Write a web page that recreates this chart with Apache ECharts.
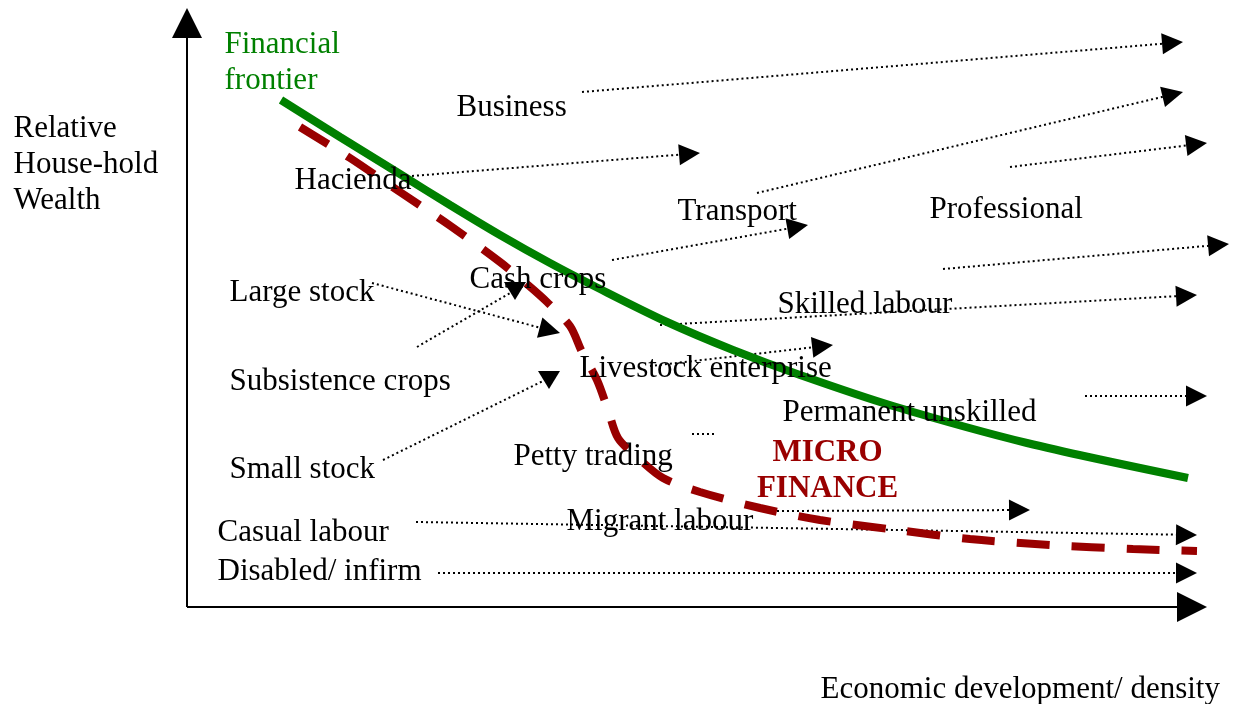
<!DOCTYPE html>
<html>
<head>
<meta charset="utf-8">
<title>Financial frontier</title>
<script src="https://cdn.jsdelivr.net/npm/echarts@6/dist/echarts.min.js"></script>
<style>
  html, body { margin: 0; padding: 0; background: #fff; }
  #chart { width: 1243px; height: 704px; }
</style>
</head>
<body>
<div id="chart"></div>
<script>
// 坐标系直接按画面像素取值 (x: 0-1243, y: 0-704 自上而下)
var greenFrontier = [[281, 100], [340, 137], [400, 174], [450, 205], [500, 235], [550, 263], [600, 289],
  [667, 322], [733, 350], [800, 375], [893, 406], [1027, 443], [1188, 478]];
var microFinance = [[300, 127], [350, 158], [400, 192], [452, 227], [500, 262], [528, 285], [547, 302],
  [570, 326], [582, 352], [597, 380], [608, 410], [618, 438], [637, 457], [663, 478], [700, 492],
  [760, 508], [820, 520], [897, 530], [970, 539], [1050, 545], [1133, 549], [1197, 551]];

// 主坐标轴 (起点, 箭头尖)
var axisArrows = [[[187, 607], [187, 8]], [[187, 607], [1207, 607]]];

// 虚线箭头 (起点, 箭头尖)
var dottedArrows = [
  [[582, 92], [1183, 42]],
  [[757, 193], [1183, 92]],
  [[1010, 167], [1207, 143]],
  [[412, 176], [700, 153]],
  [[612, 260], [808, 225]],
  [[943, 269], [1229, 244]],
  [[660, 325], [1197, 295]],
  [[372, 283], [560, 333]],
  [[650, 366], [833, 345]],
  [[1085, 396], [1207, 396]],
  [[777, 511], [1030, 510]],
  [[416, 522], [1197, 535]],
  [[438, 573], [1197, 573]]
];
// 没有箭头的虚线
var dottedPlain = [
  [[417, 347], [510, 293]],
  [[383, 460], [545, 380]],
  [[692, 434], [717, 434]]
];
// 朝下的三角
var downHeads = [[515, 291], [549, 380]];

// 文字标签 [x, y, 文本]
var blackLabels = [
  [14, 165, 'Relative\nHouse-hold\nWealth'],
  [457, 108, 'Business'],
  [295, 181, 'Hacienda'],
  [678, 212, 'Transport'],
  [930, 210, 'Professional'],
  [470, 280, 'Cash crops'],
  [230, 293, 'Large stock'],
  [778, 305, 'Skilled labour'],
  [230, 382, 'Subsistence crops'],
  [580, 369, 'Livestock enterprise'],
  [783, 413, 'Permanent unskilled'],
  [230, 470, 'Small stock'],
  [514, 457, 'Petty trading'],
  [567, 522, 'Migrant labour'],
  [218, 533, 'Casual labour'],
  [218, 572, 'Disabled/ infirm'],
  [821, 690, 'Economic development/ density']
];
var greenLabels = [[225, 63, 'Financial\nfrontier']];
var redLabels = [[828, 471, 'MICRO\nFINANCE']];

var FONT = 'Liberation Serif, Times New Roman, serif';

function textSeries(data, color, bold, align) {
  return {
    type: 'scatter',
    data: data,
    symbolSize: 1,
    itemStyle: { color: 'transparent', opacity: 1 },
    silent: true,
    z: 10,
    label: {
      show: true,
      position: [0, 0],
      align: align,
      verticalAlign: 'middle',
      color: color,
      opacity: 1,
      fontFamily: FONT,
      fontSize: 31,
      fontWeight: bold ? 'bold' : 'normal',
      lineHeight: 36,
      formatter: function (p) { return p.value[2]; }
    }
  };
}

// 三角形符号以端点为中心, 把终点往回收半个符号, 让尖端落在读到的位置
function toLines(arr, headSize) {
  var out = [];
  for (var i = 0; i < arr.length; i++) {
    var p0 = arr[i][0], p1 = arr[i][1];
    var dx = p1[0] - p0[0], dy = p1[1] - p0[1];
    var len = Math.sqrt(dx * dx + dy * dy);
    var k = headSize ? (headSize / 2) / len : 0;
    out.push({ coords: [p0, [p1[0] - dx * k, p1[1] - dy * k]] });
  }
  return out;
}

var chart = echarts.init(document.getElementById('chart'));
chart.setOption({
  animation: false,
  backgroundColor: '#fff',
  grid: { left: 0, right: 0, top: 0, bottom: 0 },
  xAxis: { type: 'value', min: 0, max: 1243, show: false },
  yAxis: { type: 'value', min: 0, max: 704, inverse: true, show: false },
  series: [
    {
      name: 'axes',
      type: 'lines',
      coordinateSystem: 'cartesian2d',
      data: toLines(axisArrows, 30),
      symbol: ['none', 'triangle'],
      symbolSize: 30,
      lineStyle: { color: '#000', width: 2, type: 'solid', opacity: 1 },
      silent: true
    },
    {
      name: 'arrows',
      type: 'lines',
      coordinateSystem: 'cartesian2d',
      data: toLines(dottedArrows, 21),
      symbol: ['none', 'triangle'],
      symbolSize: 21,
      lineStyle: { color: '#000', width: 2, type: [2, 3], opacity: 1 },
      silent: true
    },
    {
      name: 'plain',
      type: 'lines',
      coordinateSystem: 'cartesian2d',
      data: toLines(dottedPlain, 0),
      symbol: 'none',
      lineStyle: { color: '#000', width: 2, type: [2, 3], opacity: 1 },
      silent: true
    },
    {
      name: 'heads',
      type: 'scatter',
      data: downHeads,
      symbol: 'triangle',
      symbolRotate: 180,
      symbolSize: [22, 18],
      itemStyle: { color: '#000', opacity: 1 },
      silent: true
    },
    {
      name: 'Financial frontier',
      type: 'line',
      data: greenFrontier,
      smooth: 0.3,
      symbol: 'none',
      clip: false,
      lineStyle: { color: '#008000', width: 8 },
      z: 3
    },
    {
      name: 'Micro finance',
      type: 'line',
      data: microFinance,
      smooth: 0.3,
      symbol: 'none',
      clip: false,
      lineStyle: { color: '#990000', width: 8, type: [33, 22] },
      z: 3
    },
    textSeries(blackLabels, '#000', false, 'left'),
    textSeries(greenLabels, '#008000', false, 'left'),
    textSeries(redLabels, '#990000', true, 'center')
  ]
});
</script>
</body>
</html>
